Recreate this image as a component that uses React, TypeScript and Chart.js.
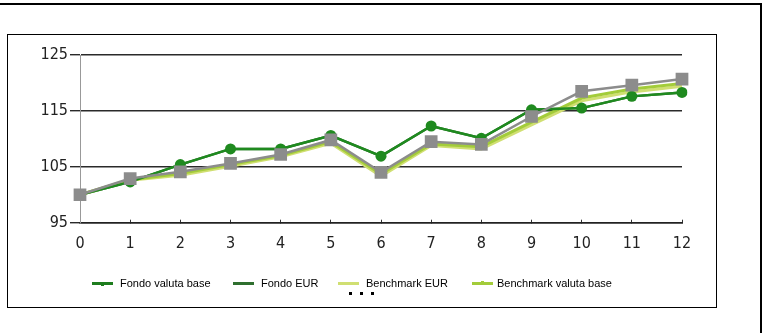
import React, { useEffect, useRef } from "react";
import { Chart, registerables } from "chart.js";

Chart.register(...registerables);

const categories = ["0", "1", "2", "3", "4", "5", "6", "7", "8", "9", "10", "11", "12"];
const fondoValutaBase = [100, 102.3, 105.4, 108.2, 108.2, 110.6, 106.9, 112.3, 110.1, 115.2, 115.5, 117.6, 118.3];
const fondoEur = [100, 102.3, 105.4, 108.2, 108.2, 110.6, 106.9, 112.3, 110.1, 115.2, 115.5, 117.6, 118.3];
const benchmarkEur = [100, 102.6, 103.5, 105.1, 106.8, 109.2, 103.3, 108.8, 108.2, 112.5, 116.8, 118.4, 119.4];
const benchmarkValutaBase = [100, 102.7, 103.8, 105.4, 107.0, 109.5, 103.7, 109.1, 108.6, 113.0, 117.3, 118.9, 119.9];
const grigio = [100, 102.9, 104.1, 105.6, 107.2, 109.8, 104.0, 109.5, 109.0, 114.0, 118.5, 119.6, 120.7];
const yTicks = [95, 105, 115, 125];
const legendLabels = ["Fondo valuta base", "Fondo EUR", "Benchmark EUR", "Benchmark valuta base"];

const AXIS_FONT = "'Liberation Sans Narrow', 'DejaVu Sans Condensed', 'Arial Narrow', sans-serif";

const legendStyle = [
  { left: 92, color: "#1e7d1e", marker: "down" },
  { left: 233, color: "#2f6f2f", marker: "" },
  { left: 338, color: "#d0df72", marker: "" },
  { left: 472, color: "#a3cc3a", marker: "up" },
];

export default function App() {
  const canvasRef = useRef<HTMLCanvasElement | null>(null);

  useEffect(() => {
    document.body.style.margin = "0";
    const canvas = canvasRef.current;
    if (!canvas) return;
    const chart = new Chart(canvas, {
      type: "line",
      data: {
        labels: categories,
        datasets: [
          {
            label: legendLabels[0],
            data: fondoValutaBase,
            borderColor: "#1f8a1f",
            backgroundColor: "#1f8a1f",
            borderWidth: 2.5,
            pointStyle: "circle",
            pointRadius: 5.5,
            pointBorderWidth: 0,
            order: 1,
          },
          {
            label: legendLabels[1],
            data: fondoEur,
            borderColor: "#2f6f2f",
            backgroundColor: "#2f6f2f",
            borderWidth: 2.5,
            pointRadius: 0,
            order: 4,
          },
          {
            label: legendLabels[2],
            data: benchmarkEur,
            borderColor: "#d0df72",
            backgroundColor: "#d0df72",
            borderWidth: 3,
            pointRadius: 0,
            order: 3,
          },
          {
            label: legendLabels[3],
            data: benchmarkValutaBase,
            borderColor: "#a3cc3a",
            backgroundColor: "#a3cc3a",
            borderWidth: 3,
            pointRadius: 0,
            order: 2,
          },
          {
            label: "",
            data: grigio,
            borderColor: "#8c8c8c",
            backgroundColor: "#8c8c8c",
            borderWidth: 2.5,
            pointStyle: "rect",
            pointRadius: 9,
            pointBorderWidth: 0,
            order: 0,
          },
        ],
      },
      options: {
        responsive: false,
        animation: false,
        layout: { padding: { left: 0, right: 34, top: 20, bottom: 0 } },
        plugins: {
          legend: { display: false },
          tooltip: { enabled: false },
          title: { display: false },
        },
        elements: { line: { tension: 0 } },
        scales: {
          x: {
            type: "category",
            offset: false,
            grid: {
              display: true,
              drawOnChartArea: false,
              drawTicks: true,
              tickLength: -3,
              color: "#333",
              lineWidth: 1,
            },
            border: { display: true, color: "#222", width: 1.5 },
            ticks: {
              color: "#222",
              padding: 15,
              maxRotation: 0,
              font: { family: AXIS_FONT, size: 16 },
            },
            afterFit: (s: any) => {
              s.height = 84.3;
            },
          },
          y: {
            min: 95,
            max: 125,
            afterBuildTicks: (s: any) => {
              s.ticks = yTicks.map((v) => ({ value: v }));
            },
            grid: {
              display: true,
              drawOnChartArea: true,
              drawTicks: true,
              tickLength: 10,
              color: "#2a2a2a",
              lineWidth: 1.4,
            },
            border: { display: true, color: "#999", width: 1 },
            ticks: {
              color: "#222",
              padding: 2,
              font: { family: AXIS_FONT, size: 16 },
            },
            afterFit: (s: any) => {
              s.width = 72;
            },
          },
        },
      },
    });
    return () => chart.destroy();
  }, []);

  return (
    <div style={{ position: "relative", width: 765, height: 333, background: "#fff", overflow: "hidden" }}>
      <div style={{ position: "absolute", left: 0, top: 3, width: 762, height: 2, background: "#000" }} />
      <div style={{ position: "absolute", left: 760, top: 3, width: 2, height: 330, background: "#000" }} />
      <div
        style={{
          position: "absolute",
          left: 7,
          top: 34,
          width: 710,
          height: 274,
          border: "1px solid #000",
          boxSizing: "border-box",
        }}
      />
      <canvas
        ref={canvasRef}
        width={708}
        height={272}
        style={{ position: "absolute", left: 8, top: 35, width: 708, height: 272 }}
      />
      {legendLabels.map((lab, i) => (
        <div
          key={lab}
          style={{
            position: "absolute",
            left: legendStyle[i].left,
            top: 276,
            height: 14,
            display: "flex",
            alignItems: "center",
            whiteSpace: "nowrap",
            fontFamily: "'Liberation Sans', Arial, sans-serif",
            fontSize: 11,
            color: "#000",
          }}
        >
          <span style={{ position: "relative", display: "inline-block", width: 21, height: 3, background: legendStyle[i].color, marginRight: i === 3 ? 4 : 7 }}>
            {legendStyle[i].marker ? (
              <span
                style={{
                  position: "absolute",
                  left: 9,
                  top: legendStyle[i].marker === "down" ? 2 : -1,
                  width: 3,
                  height: 2,
                  background: legendStyle[i].color,
                }}
              />
            ) : null}
          </span>
          <span>{lab}</span>
        </div>
      ))}
      {[349, 360, 371].map((x) => (
        <div key={x} style={{ position: "absolute", left: x, top: 292, width: 3, height: 3, background: "#000" }} />
      ))}
    </div>
  );
}
